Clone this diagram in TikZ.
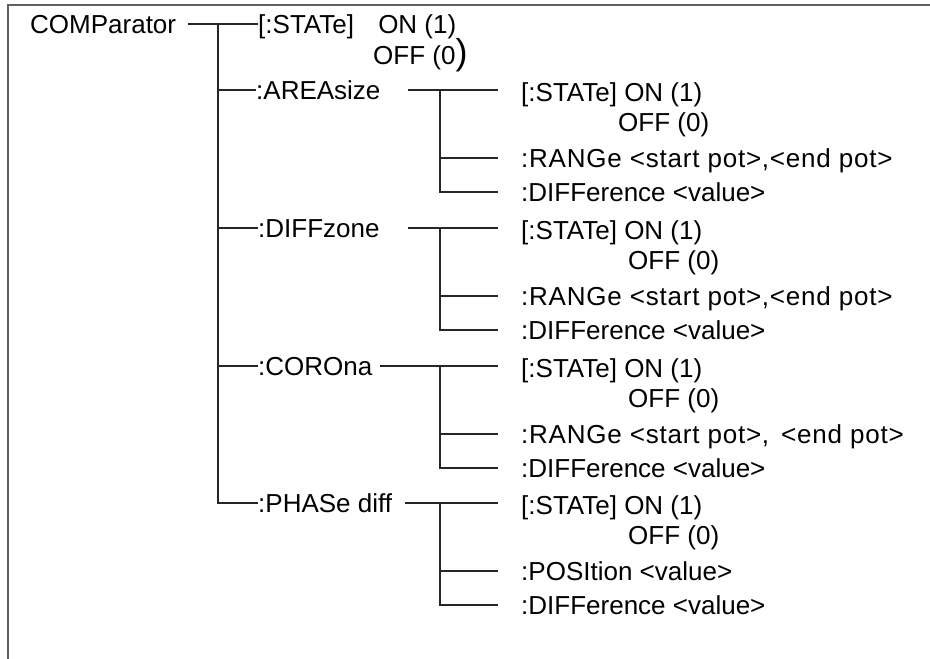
\documentclass[tikz,border=0pt]{standalone}
\usepackage{fontspec}
\setmainfont{Liberation Sans}
\usetikzlibrary{positioning}

\tikzset{
  cmd/.style={anchor=west, inner sep=0pt, text height=18.6pt, text depth=0pt,
    font=\fontsize{26}{30}\selectfont},
  wire/.style={line width=1.1pt, draw=black!85},
}
\newcommand{\widerange}[1]{{\addfontfeature{LetterSpace=3}#1}}

\begin{document}
\begin{tikzpicture}[x=1pt,y=-1pt]
\useasboundingbox (0,0) rectangle (930,659);
% frame, open at right and bottom
\draw[line width=2.2pt, gray!75!black] (930,5) -- (8,5) -- (8,659);

\coordinate (trk) at (218,0);
\coordinate (sub) at (440,0);

\node[cmd] (comp) at (30,24) {COMParator};
\node[cmd] (state) at (258,24) {[:STATe]\hspace{17pt} ON (1)};
\node[cmd] (stoff) at (373,55) {OFF (0{\fontsize{36}{30}\selectfont)}};
\draw[wire, shorten <=12pt] (comp.east) -- (state.west);

% one block per sub-command
\foreach \g/\txt/\px/\y/\gap/\offx/\rng in {
  area/{:AREAsize}/256/90/27/618/{\widerange{:RANGe <start pot>,<end pot>}},
  diff/{:DIFFzone}/258/228/28/628/{\widerange{:RANGe <start pot>,<end pot>}},
  coro/{:COROna}/258/366/7/628/{\widerange{:RANGe <start pot>,\hspace{4pt} <end pot>}},
  phase/{:PHASe diff}/258/503/13/628/{:POSItion <value>}}
{
  \node[cmd] (\g) at (\px,\y) {\txt};
  \node[cmd] (\g-on) at (521,\y+2) {[:STATe] ON (1)};
  \node[cmd] (\g-off) at (\offx,\y+32) {OFF (0)};
  \node[cmd] (\g-set) at (521,\y+68) {\rng};
  \node[cmd] (\g-dif) at (521,\y+102) {:DIFFerence <value>};
  \draw[wire] (\g.west -| trk) -- (\g.west);
  \draw[wire, shorten <=\gap pt, shorten >=23pt] (\g.east) -- (\g.east -| \g-on.west);
  \draw[wire] (\g.east -| sub) |- ([xshift=-23pt]\g-dif.west);
  \draw[wire, shorten >=23pt] (\g-set.west -| sub) -- (\g-set.west);
}

\draw[wire] (state.west -| trk) |- (phase.west);
\end{tikzpicture}
\end{document}
